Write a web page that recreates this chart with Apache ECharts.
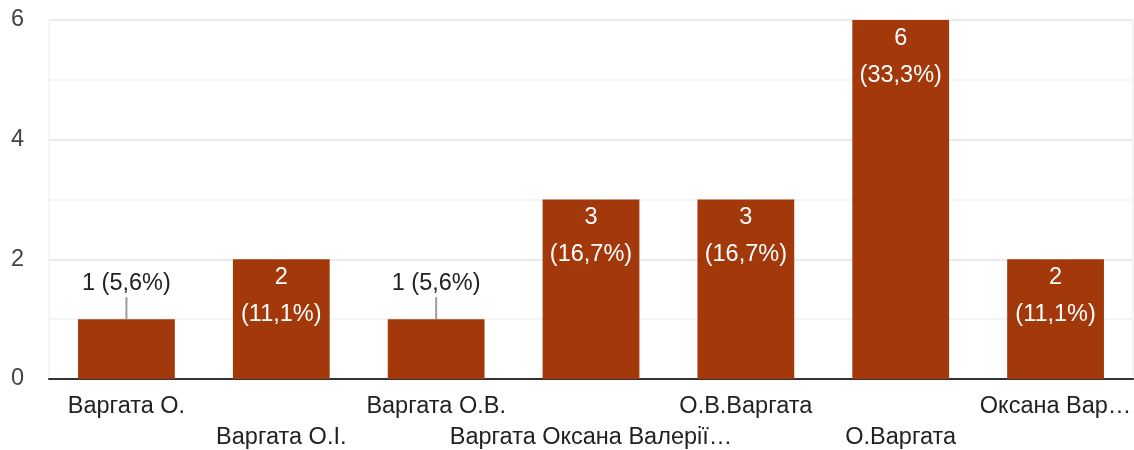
<!DOCTYPE html>
<html><head><meta charset="utf-8">
<script src="https://cdn.jsdelivr.net/npm/echarts@6/dist/echarts.min.js"></script>
<style>html,body{margin:0;padding:0;background:#fff}#c{width:1134px;height:450px}</style>
</head><body><div id="c"></div>
<script>
const categories = ['Варгата О.', 'Варгата О.І.', 'Варгата О.В.', 'Варгата Оксана Валерії…', 'О.В.Варгата', 'О.Варгата', 'Оксана Вар…'];
const counts = [1, 2, 1, 3, 3, 6, 2];
const percents = ['5,6%', '11,1%', '5,6%', '16,7%', '16,7%', '33,3%', '11,1%'];
const yTicks = [0, 2, 4, 6];

const FONT = '"Liberation Sans", Arial, sans-serif';
const FS = 23.5;
const BAR = '#a3390a';

const data = counts.map((v, i) => {
  if (v <= 1) {
    return {
      value: v,
      label: {
        show: true, position: 'top', distance: 0,
        formatter: v + ' (' + percents[i] + ')\n{l|}',
        color: '#222', fontSize: FS, fontFamily: FONT, lineHeight: 28,
        rich: { l: { backgroundColor: '#9e9e9e', width: 2, height: 22, lineHeight: 22 } }
      }
    };
  }
  return {
    value: v,
    label: {
      show: true, position: 'insideTop', distance: 0,
      formatter: v + '\n(' + percents[i] + ')',
      color: '#fff', fontSize: FS, fontFamily: FONT, lineHeight: 37
    }
  };
});

const chart = echarts.init(document.getElementById('c'), null, { renderer: 'canvas' });
chart.setOption({
  animation: false,
  grid: { left: 49, right: 1, top: 20, bottom: 71, outerBoundsMode: 'none', containLabel: false,
          show: true, borderColor: '#ebebeb', borderWidth: 1 },
  xAxis: {
    type: 'category', data: categories,
    axisTick: { show: false },
    axisLine: { lineStyle: { color: '#333', width: 2 } },
    axisLabel: {
      interval: 0, margin: 12, color: '#222', fontSize: FS, fontFamily: FONT, lineHeight: 31,
      formatter: (val, idx) => idx % 2 === 1 ? '\n' + val : val
    }
  },
  yAxis: {
    type: 'value', min: 0, max: 6, interval: 1,
    axisLine: { show: false }, axisTick: { show: false },
    axisLabel: {
      margin: 25, color: '#444', fontSize: FS, fontFamily: FONT, padding: [3, 0, 0, 0],
      formatter: v => yTicks.includes(v) ? String(v) : ''
    },
    splitLine: { lineStyle: { color: ['#ebebeb', '#f4f4f4'], width: 2 } }
  },
  series: [{
    type: 'bar', data: data, barWidth: '62.5%',
    itemStyle: { color: BAR }
  }]
});
</script></body></html>
